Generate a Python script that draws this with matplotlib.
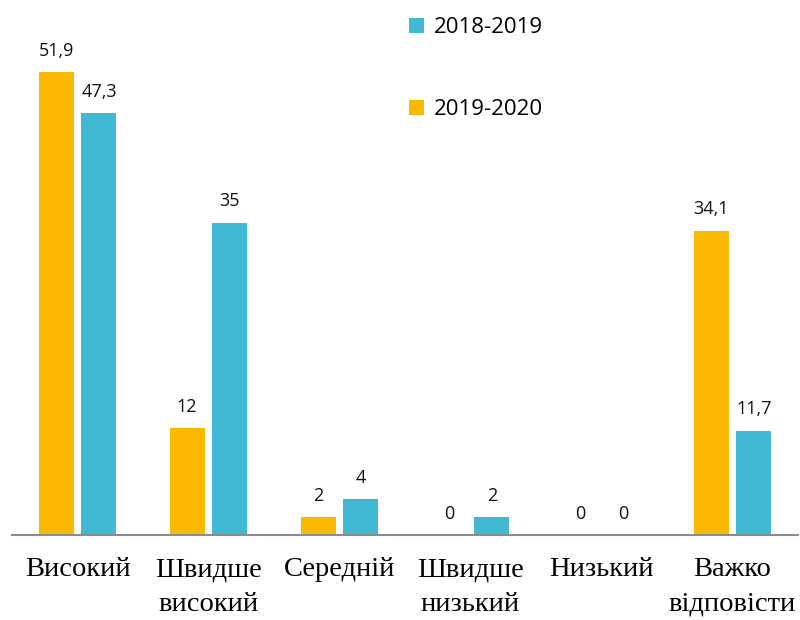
import matplotlib
matplotlib.use("Agg")
import matplotlib.pyplot as plt
import numpy as np

# категорії та значення
categories = ["Високий", "Швидше\nвисокий", "Середній", "Швидше\nнизький", "Низький", "Важко\nвідповісти"]
vals_2019_2020 = [51.9, 12, 2, 0, 0, 34.1]
vals_2018_2019 = [47.3, 35, 4, 2, 0, 11.7]

c_orange = "#FBB800"
c_blue = "#41B9D3"

fig = plt.figure(figsize=(8, 6.2), dpi=100)
ax = fig.add_axes([0.015, 0.137, 0.9825, 0.863])

x = np.arange(len(categories))
w = 0.267
off = 0.164

b1 = ax.bar(x - off, vals_2019_2020, w, color=c_orange, label="2019-2020")
b2 = ax.bar(x + off, vals_2018_2019, w, color=c_blue, label="2018-2019")


def fmt(v):
    return f"{v:g}".replace(".", ",")


for bars, vals in ((b1, vals_2019_2020), (b2, vals_2018_2019)):
    for rect, v in zip(bars, vals):
        ax.annotate(fmt(v), (rect.get_x() + rect.get_width() / 2, v),
                    xytext=(0, 9), textcoords="offset points",
                    ha="center", va="bottom", fontsize=13,
                    family="Open Sans", color="#111111")

ax.set_xlim(-0.5, 5.5)
ax.set_ylim(0, 60)
ax.set_xticks(x)
ax.set_xticklabels(categories, family="Liberation Serif", fontsize=20.5,
                   linespacing=1.5)
ax.tick_params(axis="x", length=0, pad=16)
ax.set_yticks([])
for s in ("top", "right", "left"):
    ax.spines[s].set_visible(False)
ax.spines["bottom"].set_color("#8c8c8c")
ax.spines["bottom"].set_linewidth(1.5)

# легенда: 2018-2019 зверху
handles = [b2, b1]
leg = ax.legend(handles, ["2018-2019", "2019-2020"], loc="upper left",
                bbox_to_anchor=(0.48, 1.005), frameon=False,
                prop={"family": "Open Sans", "size": 16},
                labelspacing=2.75, handlelength=0.65, handleheight=0.65,
                handletextpad=0.45)

fig.savefig("out.png", dpi=100)
